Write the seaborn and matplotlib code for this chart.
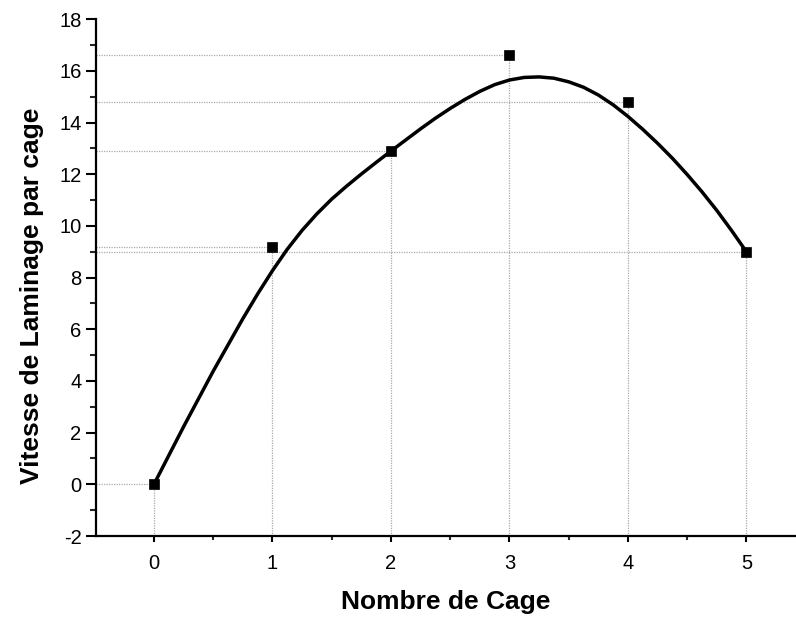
import matplotlib
matplotlib.use("Agg")
import matplotlib.pyplot as plt
from matplotlib.ticker import MultipleLocator
import seaborn as sns
import pandas as pd

# Data points
cages = [0, 1, 2, 3, 4, 5]
vitesse = [0.0, 9.2, 12.9, 16.6, 14.8, 9.0]

# Fitted curve
curve_x = [0, 0.25, 0.5, 0.75, 0.875, 1.0, 1.125, 1.25, 1.375, 1.5, 1.625, 1.75, 1.875,
           2.0, 2.125, 2.25, 2.375, 2.5, 2.625, 2.75, 2.875, 3.0, 3.125, 3.25, 3.375,
           3.5, 3.625, 3.75, 3.875, 4.0, 4.125, 4.25, 4.375, 4.5, 4.625, 4.75, 4.875, 5.0]
curve_y = [0, 2.23, 4.38, 6.41, 7.37, 8.27, 9.10, 9.83, 10.47, 11.04, 11.54, 12.01, 12.46,
           12.9, 13.33, 13.76, 14.17, 14.55, 14.90, 15.21, 15.47, 15.65, 15.75, 15.77, 15.72,
           15.58, 15.37, 15.07, 14.69, 14.24, 13.74, 13.2, 12.62, 11.99, 11.32, 10.6, 9.82, 9.0]

x_ticks = [0, 1, 2, 3, 4, 5]
y_ticks = [-2, 0, 2, 4, 6, 8, 10, 12, 14, 16, 18]

sns.set_style("ticks")
plt.rcParams['font.family'] = ['Liberation Sans', 'DejaVu Sans']

fig = plt.figure(figsize=(7.96, 6.18), dpi=100)
ax = fig.add_axes([96/796, 82/618, 700/796, (536-19.3)/618])

xmin, xmax = -0.489, 5.418
ymin, ymax = -2, 18

# drop lines
ax.vlines(cages, ymin, vitesse, colors="#aaaaaa", linestyles=(0, (1, 1)), linewidth=0.9, zorder=1)
ax.hlines(vitesse, xmin, cages, colors="#aaaaaa", linestyles=(0, (1, 1)), linewidth=0.9, zorder=1)

df_curve = pd.DataFrame({"x": curve_x, "y": curve_y})
sns.lineplot(data=df_curve, x="x", y="y", ax=ax, color="black", linewidth=2.5,
             sort=False, estimator=None, zorder=3)
for ln in ax.get_lines():
    ln.set_solid_joinstyle("round")
    ln.set_solid_capstyle("round")

df_pts = pd.DataFrame({"x": cages, "y": vitesse})
sns.scatterplot(data=df_pts, x="x", y="y", ax=ax, marker="s", s=60, color="black",
                edgecolor="black", linewidth=0.5, zorder=4)

ax.set_xlim(xmin, xmax)
ax.set_ylim(ymin, ymax)
ax.set_xticks(x_ticks)
ax.set_yticks(y_ticks)
ax.set_xticklabels([str(v) for v in x_ticks])
ax.set_yticklabels([str(v) for v in y_ticks])
ax.xaxis.set_minor_locator(MultipleLocator(0.5))
ax.yaxis.set_minor_locator(MultipleLocator(1))

for s in ["top", "right"]:
    ax.spines[s].set_visible(False)
for s in ["left", "bottom"]:
    ax.spines[s].set_linewidth(1.6)
    ax.spines[s].set_color("black")

ax.tick_params(axis="y", which="major", length=7.5, width=1.5, labelsize=14.5, pad=3,
               colors="black", labelcolor="black")
ax.tick_params(axis="y", which="minor", length=4.5, width=1.5)
ax.tick_params(axis="x", which="major", length=4, width=1.5, labelsize=14.5, pad=9,
               colors="black", labelcolor="black")
ax.tick_params(axis="x", which="minor", length=3, width=1.5)

ax.set_xlabel("Nombre de Cage", fontsize=19, fontweight="bold", color="black")
ax.set_ylabel("Vitesse de Laminage par cage", fontsize=19, fontweight="bold", color="black")
ax.xaxis.set_label_coords(0.5, -0.1045)
ax.yaxis.set_label_coords(-0.074, 0.464)

fig.savefig("out.png", dpi=100)
